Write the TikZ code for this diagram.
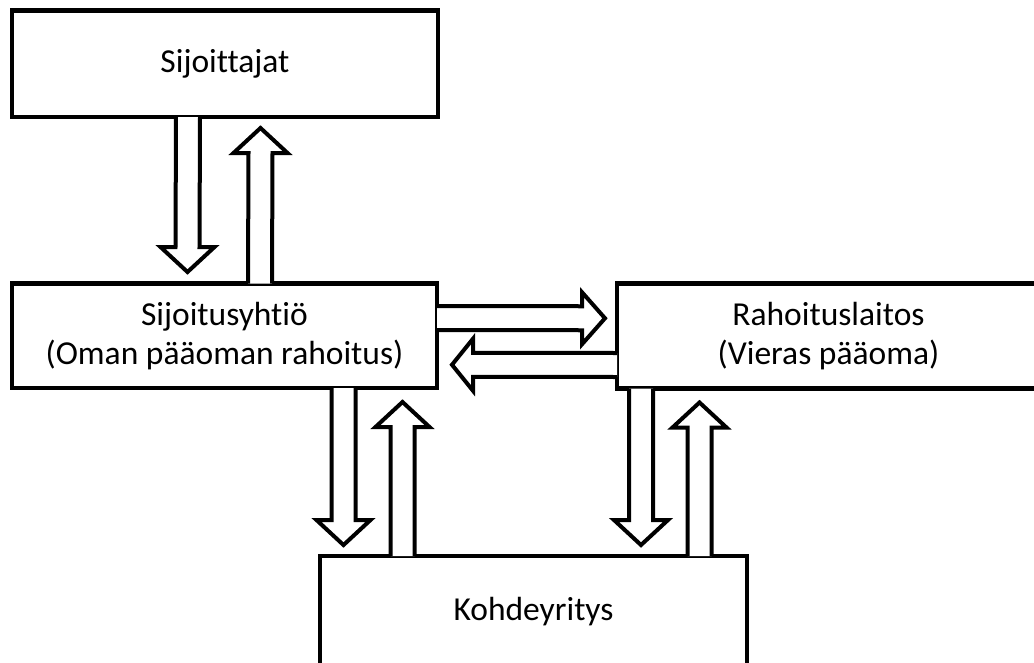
\documentclass[tikz,border=0pt]{standalone}
\usepackage{fontspec}
\setmainfont{Carlito}[Ligatures=NoCommon]
\usetikzlibrary{calc}

\tikzset{
  box/.style={draw, line width=4.5pt, outer sep=0pt, inner sep=0pt,
    align=center, font=\fontsize{33.5}{39}\selectfont},
  blockarrow/.style={draw, fill=white, line width=4pt, line join=miter},
}

% vertical block arrow: tail at #1, tip at #2, #3 = offset of the head base from the tip
\newcommand\vfat[3]{%
  \draw[blockarrow] ($(#1)+(-12,0)$) -- ($(#2)+(-12,#3)$) -- ($(#2)+(-27,#3)$)
    -- (#2) -- ($(#2)+(27,#3)$) -- ($(#2)+(12,#3)$) -- ($(#1)+(12,0)$);
}
% horizontal block arrow: tail at #1, tip at #2, #3 = offset of the head base from the tip
\newcommand\hfat[3]{%
  \draw[blockarrow] ($(#1)+(0,12)$) -- ($(#2)+(#3,12)$) -- ($(#2)+(#3,26)$)
    -- (#2) -- ($(#2)+(#3,-26)$) -- ($(#2)+(#3,-12)$) -- ($(#1)+(0,-12)$);
}

\begin{document}
\begin{tikzpicture}[x=1pt, y=1pt]
  \path[use as bounding box, clip] (0,0) rectangle (1034,-662);
  \fill[white] (0,0) rectangle (1034,-662);

  \node[box, minimum width=426, minimum height=106.5] (inv) at (225,-63.75) {Sijoittajat};
  \node[box, minimum width=425, minimum height=104.5] (fund) at (224.5,-335.75)
    {Sijoitusyhti\"o\\(Oman p\"a\"aoman rahoitus)};
  \node[box, minimum width=423, minimum height=105] (bank) at (828.5,-336)
    {Rahoituslaitos\\(Vieras p\"a\"aoma)};
  \node[box, minimum width=427, minimum height=112] (target) at (533.5,-612)
    {Kohdeyritys};

  % investors <-> fund
  \coordinate (a1s) at ($(inv.south)+(-37,0)$);
  \coordinate (a1t) at ($(fund.north)+(-37,11.5)$);
  \coordinate (a2s) at ($(fund.north)+(35.5,0)$);
  \coordinate (a2t) at ($(inv.south)+(35.5,-11)$);
  % fund <-> bank
  \coordinate (a3s) at ($(fund.east)+(0,17.75)$);
  \coordinate (a3t) at ($(bank.west)+(-12,17.75)$);
  \coordinate (a4s) at ($(bank.west)+(0,-29)$);
  \coordinate (a4t) at ($(fund.east)+(15,-29)$);
  % fund <-> target
  \coordinate (a5s) at ($(fund.south)+(119,0)$);
  \coordinate (a5t) at ($(target.north)+(-190,11)$);
  \coordinate (a6s) at ($(target.north)+(-131,0)$);
  \coordinate (a6t) at ($(fund.south)+(178,-14)$);
  % bank <-> target
  \coordinate (a7s) at ($(bank.south)+(-187.5,0)$);
  \coordinate (a7t) at ($(target.north)+(107.5,11)$);
  \coordinate (a8s) at ($(target.north)+(166,0)$);
  \coordinate (a8t) at ($(bank.south)+(-129,-14)$);

  \vfat{a1s}{a1t}{25}
  \vfat{a2s}{a2t}{-25}
  \hfat{a3s}{a3t}{-23}
  \hfat{a4s}{a4t}{21}
  \vfat{a5s}{a5t}{25}
  \vfat{a6s}{a6t}{-25}
  \vfat{a7s}{a7t}{25}
  \vfat{a8s}{a8t}{-25}
\end{tikzpicture}
\end{document}
